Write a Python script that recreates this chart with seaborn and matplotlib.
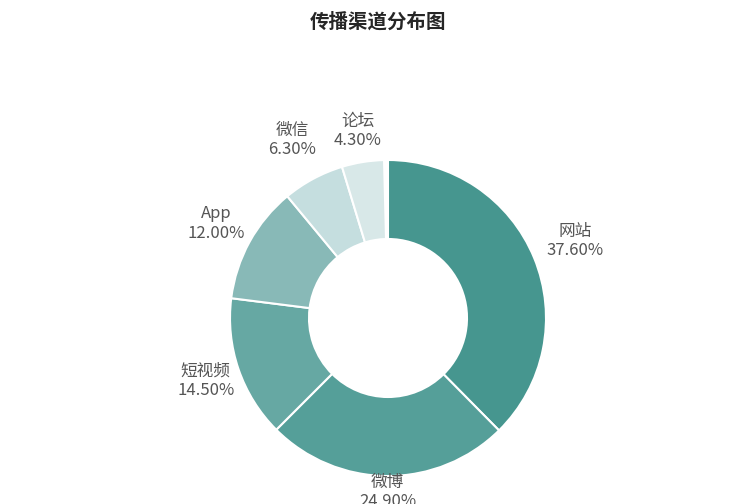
import matplotlib
matplotlib.use("Agg")
import matplotlib.pyplot as plt
import seaborn as sns

sns.set_theme(style="white")
plt.rcParams['font.family'] = ['Noto Sans CJK SC', 'DejaVu Sans']

channels = ["网站", "微博", "短视频", "App", "微信", "论坛"]
shares   = [37.6, 24.9, 14.5, 12.0, 6.3, 4.3]
colors   = ["#46968f", "#559f99", "#66a8a3", "#88b9b7", "#c5dedf", "#d8e8e8"]
label_dist = [1.28, 1.1, 1.22, 1.24, 1.28, 1.2]

fig = plt.figure(figsize=(7.56, 5.04), dpi=100)
ax = fig.add_axes([(388 - 158) / 756, (504 - 318 - 158) / 504, 316 / 756, 316 / 504])

labels = [f"{c}\n{s:.2f}%" for c, s in zip(channels, shares)]
wedges, texts = ax.pie([s / 100 for s in shares], labels=labels, colors=colors,
                       startangle=90, counterclock=False, normalize=False,
                       labeldistance=1.0,
                       wedgeprops=dict(width=0.5, edgecolor="white", linewidth=1.5),
                       textprops=dict(fontsize=12, color="#555555", ha="center",
                                      va="center", linespacing=1.2))
for t, d in zip(texts, label_dist):
    x, y = t.get_position()
    t.set_position((x * d, y * d))
    t.set_ha("center")
    t.set_va("center")
ax.set_xlim(-1, 1)
ax.set_ylim(-1, 1)
ax.set_aspect("equal")

fig.suptitle("传播渠道分布图", fontsize=14, fontweight="bold", y=0.975)
fig.savefig("out.png", dpi=100)
